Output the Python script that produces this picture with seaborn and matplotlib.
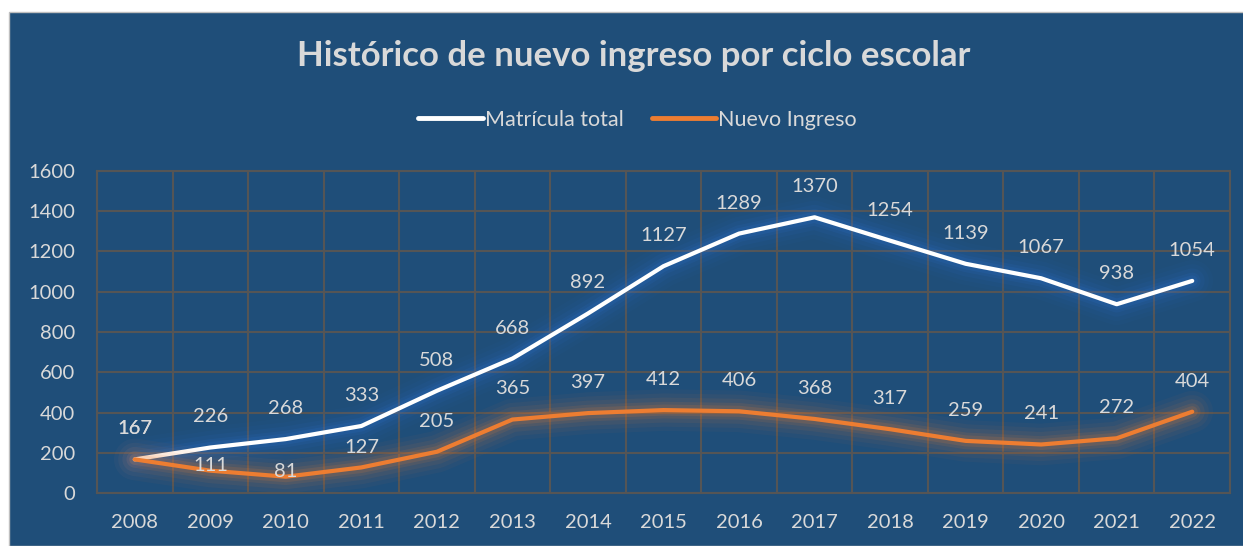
import numpy as np
import pandas as pd
import seaborn as sns
import matplotlib.pyplot as plt
import matplotlib.patheffects as pe
from matplotlib.patches import Rectangle

# Data
years = ['2008', '2009', '2010', '2011', '2012', '2013', '2014', '2015',
         '2016', '2017', '2018', '2019', '2020', '2021', '2022']
matricula_total = [167, 226, 268, 333, 508, 668, 892, 1127, 1289, 1370, 1254, 1139, 1067, 938, 1054]
nuevo_ingreso = [167, 111, 81, 127, 205, 365, 397, 412, 406, 368, 317, 259, 241, 272, 404]
series_names = ['Matrícula total', 'Nuevo Ingreso']

bg = '#1F4E79'
txt = '#D9D9D9'
grid_c = '#555555'
colors = ['#FFFFFF', '#ED7D31']
glow = ['#2E75D6', '#ED7D31']

df = pd.DataFrame({
    'Año': years * 2,
    'Valor': matricula_total + nuevo_ingreso,
    'Serie': [series_names[0]] * len(years) + [series_names[1]] * len(years),
})

sns.set_style('white')
plt.rcParams['font.family'] = ['Lato', 'DejaVu Sans']

fig = plt.figure(figsize=(12.43, 5.46), dpi=100, facecolor='white')
fig.patches.append(Rectangle((9 / 1243, 0), 1.0, 1 - 12 / 546, transform=fig.transFigure,
                             facecolor=bg, edgecolor='#BFBFBF', linewidth=1, zorder=-10))
ax = fig.add_axes([97 / 1243, 53 / 546, 1133 / 1243, 322 / 546])
ax.set_facecolor(bg)

sns.lineplot(data=df, x='Año', y='Valor', hue='Serie', palette=colors,
             linewidth=3, ax=ax, legend=False, sort=False)

# soft glow around each line
for line, gc in zip(ax.get_lines(), glow):
    effects = []
    for w, a in [(30, 0.04), (24, 0.05), (18, 0.07), (12, 0.10), (8, 0.14)]:
        effects.append(pe.Stroke(linewidth=w, foreground=gc, alpha=a))
    effects.append(pe.Normal())
    line.set_path_effects(effects)
    line.set_solid_capstyle('round')
    line.set_solid_joinstyle('round')

# data labels
offsets_mt = [22] * len(years)
offsets_ni = [22] * len(years)
offsets_ni[1] = 4
offsets_ni[2] = 4
offsets_ni[3] = 14
for vals, offs in [(matricula_total, offsets_mt), (nuevo_ingreso, offsets_ni)]:
    for i, v in enumerate(vals):
        ax.annotate(str(v), (i, v), xytext=(0, offs[i]), textcoords='offset points',
                    ha='center', va='center', fontsize=14.5, color=txt)

ax.set_xlim(-0.5, len(years) - 0.5)
ax.set_ylim(0, 1600)
ax.set_yticks(np.arange(0, 1601, 200))
ax.set_xticks(np.arange(-0.5, len(years), 1), minor=True)
ax.grid(False)
ax.grid(True, which='minor', axis='x', color=grid_c, linewidth=1.5)
ax.grid(True, which='major', axis='y', color=grid_c, linewidth=1.5)
ax.set_axisbelow(True)
for s in ax.spines.values():
    s.set_color(grid_c)
    s.set_linewidth(1.5)
ax.tick_params(which='both', length=0, labelsize=14.5, labelcolor=txt)
ax.tick_params(axis='x', pad=15)
ax.tick_params(axis='y', pad=16)
ax.set_xlabel('')
ax.set_ylabel('')

fig.text(0.51, 1 - 56 / 546, 'Histórico de nuevo ingreso por ciclo escolar',
         ha='center', va='center', fontsize=25, fontweight='bold', color=txt)

handles = [plt.Line2D([], [], color=c, linewidth=3.5) for c in colors]
fig.legend(handles, series_names, loc='center', bbox_to_anchor=(0.513, 1 - 120 / 546),
           ncol=2, frameon=False, fontsize=15.5, labelcolor=txt, handlelength=3.0,
           handletextpad=0.1, columnspacing=1.3)

fig.savefig('out.png', dpi=100, facecolor='white')
